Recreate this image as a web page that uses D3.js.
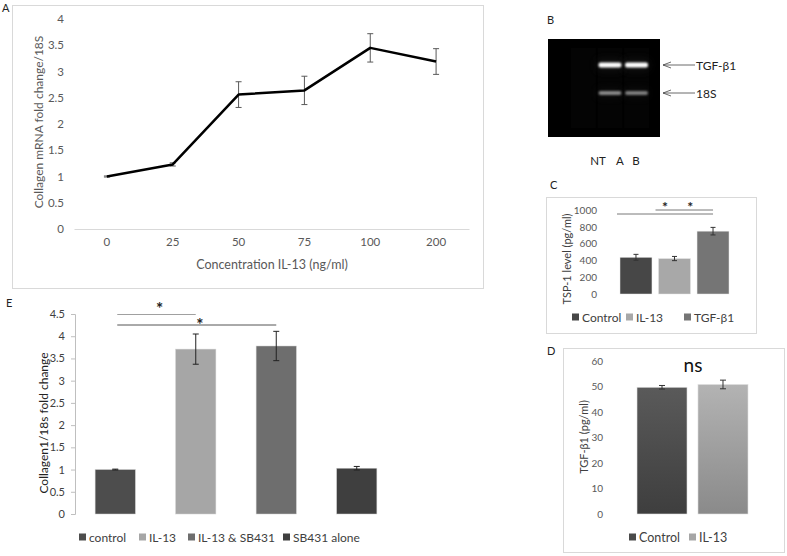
<!DOCTYPE html>
<html>
<head>
<meta charset="utf-8">
<script src="https://cdn.jsdelivr.net/npm/d3@7/dist/d3.min.js"></script>
<style>
  html, body { margin: 0; padding: 0; background: #ffffff; }
  svg { display: block; font-family: Lato, "Open Sans", sans-serif; }
</style>
</head>
<body>
<svg id="fig" width="787" height="556"></svg>
<script>
// ---------- DATA ----------
// Panel A
const concLabels = ["0", "25", "50", "75", "100", "200"];
const collagenFold = [1.0, 1.23, 2.56, 2.64, 3.45, 3.19];
const collagenErr = [0.01, 0.03, 0.245, 0.27, 0.27, 0.245];
const aTicks = [0, 0.5, 1, 1.5, 2, 2.5, 3, 3.5, 4];

// Panel B (gel)
const gelLanes = ["NT", "A", "B"];
const gelTGF = [0, 1.0, 1.0];      // band intensity
const gel18S = [0, 0.6, 0.55];
const gelMarkers = ["TGF-β1", "18S"];

// Panel C
const cCats = ["Control", "IL-13", "TGF-β1"];
const tspLevel = [437, 422, 748];
const tspErr = [35, 25, 45];
const cTicks = [0, 200, 400, 600, 800, 1000];
const cComparisons = [["Control", "TGF-β1"], ["IL-13", "TGF-β1"]];

// Panel D
const dCats = ["Control", "IL-13"];
const tgfLevel = [49.7, 50.8];
const tgfErr = [0.7, 1.7];
const dTicks = [0, 10, 20, 30, 40, 50, 60];

// Panel E
const eCats = ["control", "IL-13", "IL-13 & SB431", "SB431 alone"];
const eFold = [1.0, 3.71, 3.78, 1.03];
const eErr = [0.01, 0.34, 0.33, 0.04];
const eTicks = [0, 0.5, 1, 1.5, 2, 2.5, 3, 3.5, 4, 4.5];
const eComparisons = [["control", "IL-13"], ["control", "IL-13 & SB431"]];

// ---------- DRAW ----------
const svg = d3.select("#fig");
const frameColor = "#d9d9d9";
const txt = "#595959";

function panelLabel(t, x, y) {
  svg.append("text").attr("x", x).attr("y", y).attr("font-size", 11)
    .attr("fill", "#222").text(t);
}
function frame(x0, y0, x1, y1) {
  svg.append("rect").attr("x", x0 + 0.5).attr("y", y0 + 0.5)
    .attr("width", x1 - x0).attr("height", y1 - y0)
    .attr("fill", "#fff").attr("stroke", frameColor).attr("stroke-width", 1);
}
function yTitle(t, x, y, size, color) {
  svg.append("text").attr("transform", `translate(${x},${y}) rotate(-90)`)
    .attr("text-anchor", "middle").attr("dominant-baseline", "central")
    .attr("font-size", size).attr("fill", color).text(t);
}
function errorBars(g, xs, ys, vals, errs, cap, color) {
  vals.forEach((v, i) => {
    const cx = xs(i), top = ys(v + errs[i]), bot = ys(v - errs[i]);
    g.append("line").attr("x1", cx).attr("x2", cx).attr("y1", top).attr("y2", bot)
      .attr("stroke", color).attr("stroke-width", 1);
    [top, bot].forEach(yy => g.append("line").attr("x1", cx - cap / 2).attr("x2", cx + cap / 2)
      .attr("y1", yy).attr("y2", yy).attr("stroke", color).attr("stroke-width", 1));
  });
}
function legend(items, colors, y, xs, size) {
  items.forEach((t, i) => {
    svg.append("rect").attr("x", xs[i]).attr("y", y - 3.5).attr("width", 7).attr("height", 7)
      .attr("fill", colors[i]);
    svg.append("text").attr("x", xs[i] + 10).attr("y", y).attr("dominant-baseline", "central")
      .attr("font-size", size).attr("fill", "#404040").text(t);
  });
}

// ===== Panel A =====
panelLabel("A", 2, 12);
frame(12, 5, 483, 288);
{
  const g = svg.append("g");
  const x = d3.scaleBand().domain(concLabels).range([74, 469]);
  const y = d3.scaleLinear().domain([0, 4]).range([229, 19]);
  const yAx = g.append("g").attr("transform", "translate(74,0)")
    .call(d3.axisLeft(y).tickValues(aTicks).tickFormat(d => String(d)).tickSize(0).tickPadding(10));
  yAx.select(".domain").remove();
  yAx.selectAll("text").attr("font-size", 11.5).attr("fill", txt).attr("font-family", "Lato");
  const xAx = g.append("g").attr("transform", "translate(0,229)")
    .call(d3.axisBottom(x).tickSize(0).tickPadding(9));
  xAx.select(".domain").attr("stroke", "#d9d9d9");
  xAx.selectAll("text").attr("font-size", 11.5).attr("fill", txt).attr("font-family", "Lato");
  const cx = i => x(concLabels[i]) + x.bandwidth() / 2;
  errorBars(g, cx, y, collagenFold, collagenErr, 6, "#595959");
  const line = d3.line().x((d, i) => cx(i)).y(d => y(d));
  g.append("path").datum(collagenFold).attr("d", line).attr("fill", "none")
    .attr("stroke", "#000").attr("stroke-width", 2.5).attr("stroke-linejoin", "round");
  g.append("text").attr("x", 272).attr("y", 269).attr("text-anchor", "middle")
    .attr("font-size", 12.5).attr("fill", txt).text("Concentration IL-13 (ng/ml)");
  yTitle("Collagen mRNA fold change/18S", 38, 122, 12, txt);
}

// ===== Panel B (gel) =====
panelLabel("B", 547, 24);
{
  const defs = svg.append("defs");
  defs.append("filter").attr("id", "blurBand").attr("x", "-30%").attr("y", "-200%")
    .attr("width", "160%").attr("height", "500%")
    .append("feGaussianBlur").attr("stdDeviation", 1.1);
  defs.append("filter").attr("id", "glow").attr("x", "-50%").attr("y", "-300%")
    .attr("width", "200%").attr("height", "700%")
    .append("feGaussianBlur").attr("stdDeviation", 4);
  const g = svg.append("g");
  g.append("rect").attr("x", 548).attr("y", 39).attr("width", 112).attr("height", 98).attr("fill", "#000");
  const lx = d3.scaleBand().domain(gelLanes).range([571, 649]).paddingInner(0.06);
  // very faint lane smears
  gelLanes.forEach((l, i) => {
    g.append("rect").attr("x", lx(l)).attr("y", 48).attr("width", lx.bandwidth()).attr("height", 80)
      .attr("fill", "#040404");
  });
  const yb = d3.scalePoint().domain(gelMarkers).range([65, 93]);
  const bandRows = [gelTGF, gel18S];
  bandRows.forEach((row, r) => {
    row.forEach((v, i) => {
      if (v <= 0) return;
      const bx = lx(gelLanes[i]), bw = lx.bandwidth(), by = yb(gelMarkers[r]);
      const h = r === 0 ? 5 : 4;
      const c = d3.interpolateGreys(1 - v * (r === 0 ? 1 : 0.75));
      g.append("rect").attr("x", bx).attr("y", by - h).attr("width", bw).attr("height", h * 2)
        .attr("fill", "#3a3a3a").attr("opacity", 0.3 * v).attr("filter", "url(#glow)");
      g.append("rect").attr("x", bx + 1).attr("y", by - h / 2).attr("width", bw - 2).attr("height", h)
        .attr("rx", 2).attr("fill", r === 0 ? "#ffffff" : c).attr("filter", "url(#blurBand)");
    });
  });
  // arrows + marker labels
  gelMarkers.forEach(m => {
    const yy = yb(m);
    g.append("line").attr("x1", 663).attr("x2", 695).attr("y1", yy).attr("y2", yy)
      .attr("stroke", "#444").attr("stroke-width", 0.8);
    g.append("path").attr("d", `M671,${yy - 3} L663,${yy} L671,${yy + 3}`)
      .attr("fill", "none").attr("stroke", "#444").attr("stroke-width", 0.8);
    g.append("text").attr("x", 696).attr("y", yy).attr("dominant-baseline", "central")
      .attr("font-size", 12).attr("fill", "#222").text(m);
  });
  const labX = d3.scalePoint().domain(gelLanes).range([598, 636]);
  gelLanes.forEach((l, i) => {
    const xx = i === 0 ? labX(l) : (i === 1 ? 620 : 636);
    g.append("text").attr("x", xx).attr("y", 160).attr("text-anchor", "middle")
      .attr("dominant-baseline", "central").attr("font-size", 11.5).attr("fill", "#222").text(l);
  });
}

// ===== Panel C =====
panelLabel("C", 550, 189);
frame(546, 197, 756, 333);
{
  const g = svg.append("g");
  const colors = ["#474747", "#a8a8a8", "#757575"];
  const x = d3.scaleBand().domain(cCats).range([620, 729]).paddingInner(0.17);
  const y = d3.scaleLinear().domain([0, 1000]).range([294, 210]);
  const yAx = g.append("g").attr("transform", "translate(597,0)")
    .call(d3.axisLeft(y).tickValues(cTicks).tickFormat(d => String(d)).tickSize(0).tickPadding(0));
  yAx.select(".domain").remove();
  yAx.selectAll("text").attr("font-size", 10).attr("fill", txt).attr("font-family", "Lato");
  g.selectAll(".barC").data(tspLevel).join("rect")
    .attr("x", (d, i) => x(cCats[i])).attr("width", x.bandwidth())
    .attr("y", d => y(d)).attr("height", d => y(0) - y(d))
    .attr("fill", (d, i) => colors[i]).attr("stroke", "#e6e6e6").attr("stroke-width", 0.5);
  errorBars(g, i => x(cCats[i]) + x.bandwidth() / 2, y, tspLevel, tspErr, 5, "#333");
  const lineYs = [214, 210];
  const starDx = [0, 6];
  cComparisons.forEach((c, k) => {
    const x1 = x(c[0]) - 3, x2 = x(c[1]) + x.bandwidth() / 2;
    g.append("line").attr("x1", x1).attr("x2", x2).attr("y1", lineYs[k]).attr("y2", lineYs[k])
      .attr("stroke", "#555").attr("stroke-width", 0.8);
    g.append("text").attr("x", (x1 + x2) / 2 + starDx[k]).attr("y", 212)
      .attr("text-anchor", "middle").attr("font-size", 14).attr("font-weight", "bold")
      .attr("fill", "#222").text("*");
  });
  yTitle("TSP-1 level (pg/ml)", 566, 259, 11, "#404040");
  legend(cCats, colors, 317, [572, 626, 684], 12);
}

// ===== Panel D =====
panelLabel("D", 547, 355);
frame(563, 348, 784, 552);
{
  const g = svg.append("g");
  const defs = svg.select("defs");
  const grads = [["#5a5a5a", "#3e3e3e"], ["#b3b3b3", "#8a8a8a"]];
  grads.forEach((c, i) => {
    const lg = defs.append("linearGradient").attr("id", "gD" + i)
      .attr("x1", 0).attr("y1", 0).attr("x2", 0).attr("y2", 1);
    lg.append("stop").attr("offset", "0%").attr("stop-color", c[0]);
    lg.append("stop").attr("offset", "100%").attr("stop-color", c[1]);
  });
  const x = d3.scaleBand().domain(dCats).range([637, 748]).paddingInner(0.18);
  const y = d3.scaleLinear().domain([0, 60]).range([514, 361]);
  const yAx = g.append("g").attr("transform", "translate(603,0)")
    .call(d3.axisLeft(y).tickValues(dTicks).tickSize(0).tickPadding(0));
  yAx.select(".domain").remove();
  yAx.selectAll("text").attr("font-size", 10).attr("fill", txt).attr("font-family", "Lato");
  g.selectAll(".barD").data(tgfLevel).join("rect")
    .attr("x", (d, i) => x(dCats[i])).attr("width", x.bandwidth())
    .attr("y", d => y(d)).attr("height", d => y(0) - y(d))
    .attr("fill", (d, i) => `url(#gD${i})`).attr("stroke", "#e0e0e0").attr("stroke-width", 0.6);
  errorBars(g, i => x(dCats[i]) + x.bandwidth() / 2, y, tgfLevel, tgfErr, 6, "#333");
  g.append("text").attr("x", 693).attr("y", 372).attr("text-anchor", "middle")
    .attr("font-size", 19).attr("fill", "#111").text("ns");
  yTitle("TGF-β1 (pg/ml)", 583, 437, 11, "#404040");
  legend(dCats, ["#4a4a4a", "#a6a6a6"], 537, [629, 689], 12.5);
}

// ===== Panel E =====
panelLabel("E", 6, 307);
{
  const g = svg.append("g");
  const colors = ["#4d4d4d", "#a6a6a6", "#6e6e6e", "#3f3f3f"];
  const x = d3.scaleBand().domain(eCats).range([75, 397]).paddingInner(0.5).paddingOuter(0.25);
  const y = d3.scaleLinear().domain([0, 4.5]).range([514, 314]);
  const yAx = g.append("g").attr("transform", "translate(75,0)")
    .call(d3.axisLeft(y).tickValues(eTicks).tickFormat(d => String(d)).tickSize(4).tickPadding(6));
  yAx.select(".domain").attr("stroke", "#bfbfbf");
  yAx.selectAll("line").attr("stroke", "#bfbfbf");
  yAx.selectAll("text").attr("font-size", 11).attr("fill", "#404040").attr("font-family", "Lato");
  g.selectAll(".barE").data(eFold).join("rect")
    .attr("x", (d, i) => x(eCats[i])).attr("width", x.bandwidth())
    .attr("y", d => y(d)).attr("height", d => y(0) - y(d))
    .attr("fill", (d, i) => colors[i]).attr("stroke", "#d0d0d0").attr("stroke-width", 0.5);
  errorBars(g, i => x(eCats[i]) + x.bandwidth() / 2, y, eFold, eErr, 6, "#222");
  const lineYs = [314.5, 325];
  const lineCols = ["#a0a0a0", "#555"];
  const starBase = [315, 331];
  const starDx = [3, 3];
  eComparisons.forEach((c, k) => {
    const x1 = x(c[0]) + x.bandwidth() / 2 + 2, x2 = x(c[1]) + x.bandwidth() / 2;
    g.append("line").attr("x1", x1).attr("x2", x2).attr("y1", lineYs[k]).attr("y2", lineYs[k])
      .attr("stroke", lineCols[k]).attr("stroke-width", 1);
    g.append("text").attr("x", (x1 + x2) / 2 + starDx[k]).attr("y", starBase[k])
      .attr("text-anchor", "middle").attr("font-size", 17).attr("font-weight", "bold")
      .attr("fill", "#222").text("*");
  });
  yTitle("Collagen1/18s fold change", 43, 423, 12, "#222");
  legend(eCats, colors, 537, [79, 139, 188, 283], 12);
}
</script>
</body>
</html>
